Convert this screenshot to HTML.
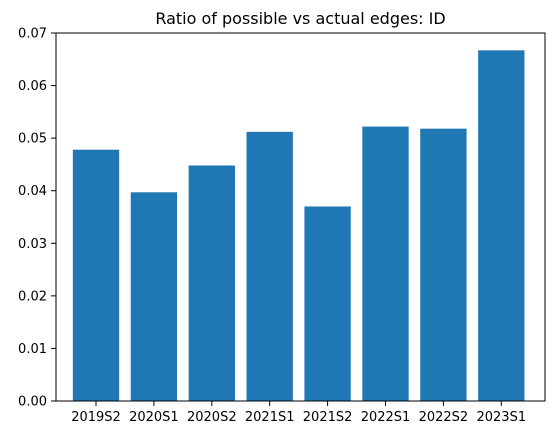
<!DOCTYPE html>
<html><head><meta charset="utf-8"><style>body{margin:0;background:#fff}svg{display:block;font-family:"DejaVu Sans","Liberation Sans",sans-serif}</style></head>
<body>
<svg id="chart" width="556" height="435" viewBox="0 0 556 435">
<text x="300.5" y="24" text-anchor="middle" font-size="16">Ratio of possible vs actual edges: ID</text>
<g id="plot"></g>
</svg>
<script>
const categories = ["2019S2","2020S1","2020S2","2021S1","2021S2","2022S1","2022S2","2023S1"];
const values = [0.0478, 0.0397, 0.0448, 0.0512, 0.0370, 0.0522, 0.0518, 0.0667];
const yTicks = [0, 0.01, 0.02, 0.03, 0.04, 0.05, 0.06, 0.07];
const yTickLabels = ["0.00","0.01","0.02","0.03","0.04","0.05","0.06","0.07"];

const L=56,R=545,T=33,B=401,NS="http://www.w3.org/2000/svg";
const n=categories.length;
const pad=(n-1+0.8)*0.05, x0=-0.4-pad, x1=n-1+0.4+pad;
const unit=57.9, cx0=96;
const xs=v=>cx0+v*unit;
const ys=v=>B-(v/0.07)*(B-T);
const g=document.getElementById('plot');
function mk(t,a){const e=document.createElementNS(NS,t);for(const k in a)e.setAttribute(k,a[k]);g.appendChild(e);return e;}
values.forEach((v,i)=>{
  const r=mk('rect',{x:xs(i-0.4),y:ys(v),width:xs(i+0.4)-xs(i-0.4),height:B-ys(v),fill:'#1f77b4'});
  
  
  mk('line',{x1:xs(i),x2:xs(i),y1:B,y2:B+5,stroke:'#000','stroke-width':1});
  const t=mk('text',{x:xs(i),y:B+20,'text-anchor':'middle','font-size':13});
  t.textContent=categories[i];
  
  
});
yTicks.forEach((v,i)=>{
  mk('line',{x1:L-5,x2:L,y1:ys(v),y2:ys(v),stroke:'#000','stroke-width':1});
  const t=mk('text',{x:L-9,y:ys(v)+4.5,'text-anchor':'end','font-size':13});
  t.textContent=yTickLabels[i];
  
  
});
const f=mk('rect',{x:L,y:T,width:R-L,height:B-T,fill:'none',stroke:'#000','stroke-width':1});


</script>
</body></html>
